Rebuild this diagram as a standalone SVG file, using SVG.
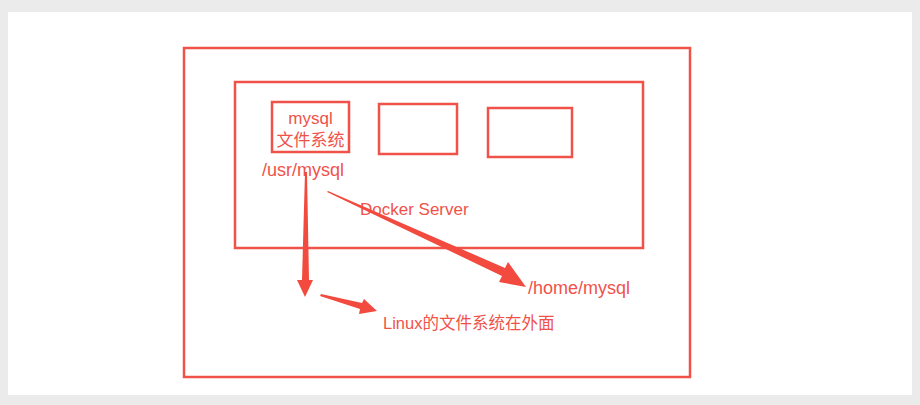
<svg xmlns="http://www.w3.org/2000/svg" width="920" height="405" viewBox="0 0 920 405">
<style>
.b{fill:none;stroke:#f0524a;stroke-width:2.5}
.t{fill:#f0524a;font-family:"Liberation Sans","Noto Sans CJK SC",sans-serif;font-size:18px}
.a{fill:#f24a3e}
</style>
<rect width="920" height="405" fill="#ebebeb"/>
<rect x="8" y="12" width="904" height="383" fill="#fff"/>
<g id="outer"><rect class="b" x="184" y="48" width="506" height="329"/></g>
<g id="docker"><rect class="b" x="235" y="82" width="408" height="166"/><text class="t" x="360" y="215" style="font-size:17px">Docker Server</text></g>
<g id="mysql"><rect class="b" x="272" y="102" width="77" height="50"/><text class="t" x="310.5" y="124" text-anchor="middle" style="font-size:17px">mysql</text><text class="t" x="310.5" y="146" text-anchor="middle" style="font-size:17px">文件系统</text></g>
<g id="box2"><rect class="b" x="379" y="104" width="78" height="50"/></g>
<g id="box3"><rect class="b" x="488" y="108" width="84" height="49"/></g>
<g id="usr"><text class="t" x="262" y="176">/usr/mysql</text></g>
<g id="home"><text class="t" x="528" y="294">/home/mysql</text></g>
<g id="linux"><text class="t" x="383" y="329" style="font-size:16.5px">Linux的文件系统在外面</text></g>
<g id="connectors">
<polygon class="a" points="305,172 307,172 309,280 313,280 305,297 297,280 302,280"/>
<polygon class="a" points="320,296 321,294 362,303 364,299 377,311 359,314 360,309"/>
<polygon class="a" points="327,192 328,191 505,268 508,262 526,287 499,282 502,276"/>
</g>
</svg>
